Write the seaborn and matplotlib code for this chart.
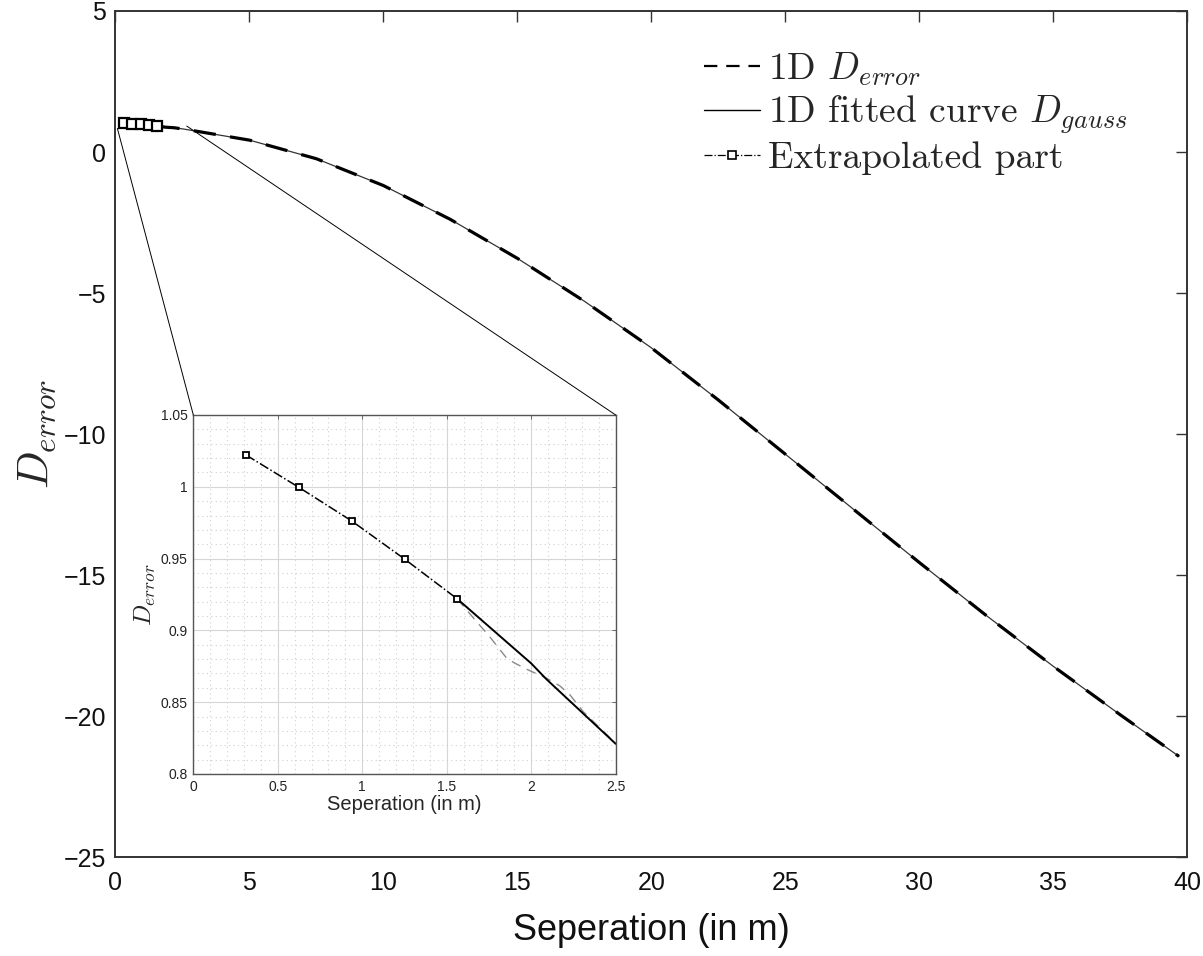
import matplotlib
matplotlib.use("Agg")
import matplotlib.pyplot as plt
import seaborn as sns
import numpy as np
import pandas as pd
from matplotlib.lines import Line2D
from matplotlib.patches import ConnectionPatch
from matplotlib.ticker import MultipleLocator, FuncFormatter

# ---------------- data ----------------
extrap_x = [0.3125, 0.625, 0.9375, 1.25, 1.5625]
extrap_y = [1.0221, 0.9996, 0.9762, 0.9497, 0.9219]

gauss_x = [1.5625, 2.0, 2.09, 2.5, 5.0, 7.5, 10.0, 12.5, 15.0, 17.5, 20.0,
           22.5, 25.0, 27.5, 30.0, 32.5, 35.0, 37.5, 39.7]
gauss_y = [0.9219, 0.877, 0.866, 0.821, 0.421, -0.239, -1.189, -2.389, -3.769,
           -5.289, -6.94, -8.79, -10.71, -12.63, -14.55, -16.43, -18.23,
           -19.95, -21.43]

error_x = [1.5625, 1.677, 1.746, 1.855, 1.904, 1.983, 2.092, 2.170, 2.230,
           2.308, 2.5, 5.0, 7.5, 10.0, 12.5, 15.0, 17.5, 20.0, 22.5, 25.0,
           27.5, 30.0, 32.5, 35.0, 37.5, 39.7]
error_y = [0.9219, 0.906, 0.8968, 0.8806, 0.8771, 0.8724, 0.8666, 0.8613,
           0.855, 0.8434, 0.8214, 0.421, -0.239, -1.189, -2.389, -3.769,
           -5.289, -6.94, -8.79, -10.71, -12.63, -14.55, -16.43, -18.23,
           -19.95, -21.43]

main_xticks = [0, 5, 10, 15, 20, 25, 30, 35, 40]
main_yticks = [-25, -20, -15, -10, -5, 0, 5]
inset_xticks = [0, 0.5, 1, 1.5, 2, 2.5]
inset_yticks = [0.8, 0.85, 0.9, 0.95, 1.0, 1.05]

legend_labels = [r"1D $D_{error}$", r"1D fitted curve $D_{gauss}$",
                 "Extrapolated part"]
x_label = "Seperation (in m)"
y_label = r"$D_{error}$"

# ---------------- style ----------------
sns.set_theme(style="white")
plt.rcParams["font.family"] = ["Liberation Sans", "DejaVu Sans"]
plt.rcParams["mathtext.fontset"] = "cm"
plt.rcParams["xtick.direction"] = "in"
plt.rcParams["ytick.direction"] = "in"

fig = plt.figure(figsize=(12.03, 9.56), dpi=100)
ax = fig.add_axes([0.096, 0.1035, 0.8907, 0.885])

df_err = pd.DataFrame({"x": error_x, "y": error_y})
df_gau = pd.DataFrame({"x": gauss_x, "y": gauss_y})
df_ext = pd.DataFrame({"x": extrap_x, "y": extrap_y})

# main panel
sns.lineplot(data=df_gau, x="x", y="y", ax=ax, color="#333333", lw=0.9,
             sort=False, estimator=None)
sns.lineplot(data=df_err, x="x", y="y", ax=ax, color="black", lw=2.3,
             sort=False, estimator=None)
ax.lines[-1].set_dashes((7, 4.5))
sns.lineplot(data=df_ext, x="x", y="y", ax=ax, color="black", lw=1.0,
             sort=False, estimator=None)
ax.lines[-1].set_linestyle("-.")
ax.lines[-1].set_marker("s")
ax.lines[-1].set_markersize(7.5)
ax.lines[-1].set_markerfacecolor("white")
ax.lines[-1].set_markeredgecolor("black")
ax.lines[-1].set_markeredgewidth(1.6)

ax.set_xlim(0, 40)
ax.set_ylim(-25, 5)
ax.set_xticks(main_xticks)
ax.set_yticks(main_yticks)
ax.tick_params(axis="both", which="major", labelsize=18, length=8,
               width=1.0, color="#333333", top=True, right=True,
               labelcolor="#111111")
ax.tick_params(axis="x", pad=10)
ax.tick_params(axis="y", pad=7)
for s in ax.spines.values():
    s.set_visible(True)
    s.set_color("#333333")
    s.set_linewidth(1.4)
ax.set_xlabel(x_label, fontsize=26, labelpad=13, color="#111111")
ax.set_ylabel(y_label, fontsize=32, labelpad=4)

handles = [
    Line2D([], [], color="black", lw=1.6, dashes=(6, 4)),
    Line2D([], [], color="black", lw=1.0),
    Line2D([], [], color="black", lw=0.9, ls="-.", marker="s", markersize=6,
           markerfacecolor="white", markeredgecolor="black",
           markeredgewidth=1.2),
]
leg = ax.legend(handles, legend_labels, loc="upper right",
                bbox_to_anchor=(0.958, 0.971), frameon=False,
                prop={"family": "cmr10", "size": 27}, handlelength=1.5,
                handletextpad=0.2, labelspacing=0.15, borderaxespad=0.0)

# inset
ins = fig.add_axes([0.1607, 0.1904, 0.3511, 0.3755])
ins.set_facecolor("white")
sns.lineplot(data=df_err[df_err.x <= 2.5], x="x", y="y", ax=ins,
             color="#8a8a8a", lw=1.0, sort=False, estimator=None)
ins.lines[-1].set_dashes((7, 5))
sns.lineplot(data=df_gau[df_gau.x <= 2.5], x="x", y="y", ax=ins,
             color="black", lw=1.4, sort=False, estimator=None)
sns.lineplot(data=df_ext, x="x", y="y", ax=ins, color="black", lw=1.1,
             sort=False, estimator=None)
ins.lines[-1].set_linestyle("-.")
ins.lines[-1].set_marker("s")
ins.lines[-1].set_markersize(5)
ins.lines[-1].set_markerfacecolor("white")
ins.lines[-1].set_markeredgecolor("black")
ins.lines[-1].set_markeredgewidth(1.3)

ins.set_xlim(0, 2.5)
ins.set_ylim(0.8, 1.05)
ins.set_xticks(inset_xticks)
ins.set_yticks(inset_yticks)
ins.xaxis.set_minor_locator(MultipleLocator(0.1))
ins.yaxis.set_minor_locator(MultipleLocator(0.01))
fmt = FuncFormatter(lambda v, p: "%g" % round(v, 3))
ins.xaxis.set_major_formatter(fmt)
ins.yaxis.set_major_formatter(fmt)
ins.grid(True, which="major", color="#d6d6d6", lw=0.8, ls="-")
ins.grid(True, which="minor", color="#d0d0d0", lw=0.8, ls=(0, (1, 3)))
ins.set_axisbelow(True)
ins.tick_params(axis="both", which="major", labelsize=10, length=3,
                width=0.6, color="#555555", labelcolor="#222222",
                top=True, right=True, pad=4)
ins.tick_params(axis="both", which="minor", length=0)
for s in ins.spines.values():
    s.set_visible(True)
    s.set_color("#555555")
    s.set_linewidth(1.0)
ins.set_xlabel(x_label, fontsize=14.5, labelpad=1)
ins.set_ylabel(y_label, fontsize=18, labelpad=2)

# zoom connector lines
for xyA, xyB in [((0.07, 0.84), (0.0, 1.0)), ((2.66, 0.92), (1.0, 1.0))]:
    con = ConnectionPatch(xyA=xyA, coordsA=ax.transData, xyB=xyB,
                          coordsB=ins.transAxes, color="black", lw=0.7)
    fig.add_artist(con)

fig.savefig("out.png", dpi=100)
